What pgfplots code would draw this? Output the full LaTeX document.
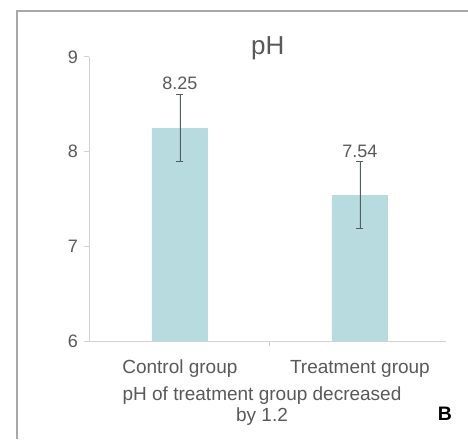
\documentclass[border=0pt]{standalone}
\usepackage{pgfplots}
\pgfplotsset{compat=1.18}
\usepackage{fontspec}
\setmainfont{Liberation Sans}
\definecolor{barc}{HTML}{B7DBDF}
\definecolor{txt}{HTML}{595959}
\definecolor{axc}{HTML}{D2D2D2}
\definecolor{errc}{HTML}{505E60}
\definecolor{framec}{HTML}{A8A8A8}
\begin{document}
\begin{tikzpicture}[x=1pt,y=1pt]
\useasboundingbox (0,0) rectangle (468,439);
\fill[white] (0,0) rectangle (468,439);
\draw[framec, line width=1.5pt] (17,0) -- (17,428) -- (468,428);
\begin{axis}[
  at={(89pt,98pt)}, anchor=south west,
  scale only axis, width=357pt, height=284pt,
  xmin=-0.505, xmax=1.478, ymin=6, ymax=9,
  /pgf/number format/assume math mode=true,
  axis x line*=bottom, axis y line*=left,
  axis line style={axc, line width=1pt},
  tick align=outside, major tick length=5pt,
  tick style={axc, line width=1pt},
  ytick={6,7,8,9},
  yticklabel style={font=\fontsize{18}{20}\selectfont, text=txt, anchor=east, inner sep=0pt, xshift=-6pt},
  xtick={0.5}, xticklabels={},
  extra x ticks={0,1},
  extra x tick labels={Control group, Treatment group},
  extra x tick style={major tick length=0pt,
    xticklabel style={font=\fontsize{19}{22}\selectfont, text=txt, anchor=base, inner sep=0pt, yshift=-32pt}},
  title={pH},
  title style={at={(axis description cs:0.501,1)}, anchor=base, yshift=-4pt, inner sep=0pt, font=\fontsize{26}{30}\selectfont, text=txt},
  xlabel={pH of treatment group decreased\\by 1.2},
  xlabel style={at={(axis description cs:0.4846,0)}, anchor=base, yshift=-80pt, align=center, inner sep=0pt, font=\fontsize{19}{21}\selectfont, text=txt},
]
\addplot[ybar, bar width=56pt, fill=barc, draw=none,
  error bars/.cd, y dir=both, y explicit,
  error bar style={errc, line width=0.8pt},
  error mark options={rotate=90, mark size=3.5pt, errc, line width=0.8pt}]
  coordinates {(0,8.25) +- (0,0.355) (1,7.54) +- (0,0.355)};
\addplot[draw=none, nodes near coords, point meta=explicit symbolic,
  nodes near coords style={anchor=base, yshift=4.5pt, inner sep=0pt, font=\fontsize{18}{20}\selectfont, text=txt}]
  coordinates {(0,8.605) [8.25] (1,7.895) [7.54]};
\end{axis}
\node[anchor=base, inner sep=0pt, font=\fontsize{19.5}{22}\selectfont\bfseries] at (445,19) {B};
\end{tikzpicture}
\end{document}
